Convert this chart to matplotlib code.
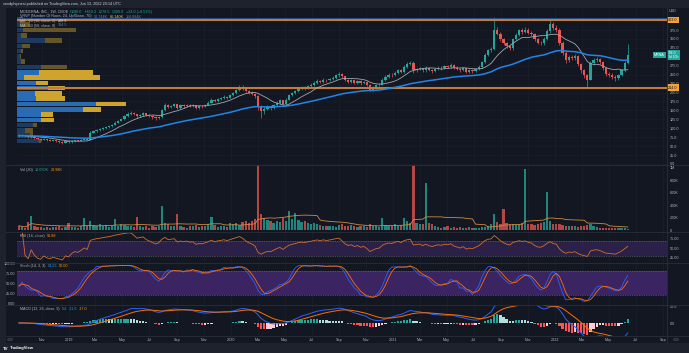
import matplotlib
matplotlib.use('Agg')
import matplotlib.pyplot as plt
import matplotlib.dates as mdates
import matplotlib.transforms as mtransforms
from matplotlib.patches import Rectangle, Circle
from matplotlib.lines import Line2D
import numpy as np
import pandas as pd

W, H = 689, 353

# weekly candles, Sep 2018 .. Jun 2022
weeks = pd.date_range('2018-09-10', periods=197, freq='W-MON')
first_open = 80
closes = [
    79, 81, 77, 75,  78, 74, 70, 68,  70, 67, 65, 66, 64,  62, 60, 63, 61,
    64, 66, 65, 67,  70, 68, 88, 92,  95, 97, 100, 103, 106,  110, 116, 121, 126,
    133, 140, 143, 139, 134,  138, 142, 137, 134,  131, 128, 132, 150,
    166, 160, 163, 167, 158,  164, 162, 166, 163,  165, 158, 162, 161,
    166, 172, 180, 176, 181,  184, 188, 186, 192,
    198, 206, 216, 212, 205,  200, 196, 190, 160,  148, 155, 160, 158,  165, 172, 178, 168,
    180, 192, 198, 204, 210,  214, 212, 218, 222,  228, 232, 230, 236, 234,
    238, 242, 248, 252,  245, 236, 230, 234,  228, 232, 226, 230, 222,
    208, 214, 220, 222,  236, 244, 250, 248,
    256, 262, 258, 272, 280,  284, 262, 266, 268,  262, 270, 264, 260,
    266, 270, 268, 274, 272,  278, 270, 266, 262,  268, 258, 262, 260,
    266, 272, 285, 305, 318,  322, 376, 365, 350,  338, 330, 324, 350,
    362, 374, 370, 376, 368,  364, 350, 340, 338,  350, 372, 392, 380, 376,
    340, 312, 290, 300,  296, 302, 280, 262,  248, 236, 282, 290,
    294, 286, 268, 252, 250,  244, 240, 250, 262,  282, 306,
]
highs = [
    83, 84, 82, 79,  81, 79, 75, 72,  72, 71, 69, 68, 67,  66, 63, 65, 65,
    66, 68, 68, 69,  73, 71, 91, 95,  98, 100, 103, 106, 109,  113, 119, 124, 129,
    137, 145, 148, 146, 141,  141, 146, 144, 139,  136, 133, 135, 154,
    172, 168, 166, 171, 169,  167, 167, 169, 168,  168, 166, 165, 165,
    169, 175, 184, 182, 184,  187, 192, 191, 196,
    202, 210, 222, 220, 214,  208, 204, 199, 192,  166, 162, 166, 165,  169, 176, 182, 180,
    184, 196, 202, 208, 214,  219, 218, 222, 226,  232, 237, 236, 240, 239,
    242, 246, 252, 257,  255, 247, 239, 238,  236, 236, 234, 233, 232,
    224, 218, 223, 226,  240, 248, 254, 254,
    260, 267, 265, 276, 285,  288, 287, 270, 272,  270, 274, 272, 267,
    269, 273, 273, 278, 277,  282, 280, 273, 269,  271, 270, 265, 265,
    269, 276, 289, 310, 322,  328, 412, 384, 369,  353, 342, 334, 354,
    367, 379, 380, 384, 380,  372, 367, 353, 345,  355, 378, 404, 398, 388,
    380, 344, 316, 306,  305, 309, 305, 283,  266, 252, 288, 298,
    300, 298, 289, 271, 257,  254, 248, 253, 266,  288, 336,
]
lows = [
    76, 77, 75, 72,  73, 71, 68, 65,  66, 65, 63, 63, 62,  59, 57, 58, 59,
    60, 62, 63, 64,  66, 66, 67, 86,  90, 93, 95, 98, 101,  104, 108, 114, 119,
    124, 131, 137, 136, 130,  131, 135, 134, 131,  127, 124, 126, 130,
    148, 156, 157, 160, 154,  155, 158, 159, 160,  160, 154, 155, 157,
    159, 164, 170, 173, 174,  178, 181, 183, 184,
    189, 196, 204, 208, 201,  196, 192, 184, 152,  128, 140, 150, 152,  155, 162, 169, 163,
    166, 178, 189, 195, 201,  206, 207, 209, 214,  219, 225, 226, 227, 230,
    231, 235, 239, 244,  241, 232, 226, 227,  224, 225, 222, 223, 217,
    203, 205, 211, 217,  220, 233, 241, 244,
    245, 253, 254, 256, 269,  277, 256, 258, 262,  257, 258, 260, 255,
    257, 263, 264, 265, 268,  269, 266, 262, 257,  259, 254, 255, 256,
    257, 263, 270, 283, 302,  314, 318, 360, 345,  333, 325, 318, 320,
    346, 358, 365, 366, 363,  358, 345, 335, 332,  334, 347, 368, 375, 370,
    334, 305, 283, 285,  290, 292, 275, 256,  242, 216, 234, 278,
    286, 280, 262, 246, 243,  238, 233, 236, 247,  258, 280,
]
volume_k = [
    70, 45, 40, 130,  230, 60, 50, 45,  40, 55, 35, 50, 45,  60, 40, 55, 120,
    45, 55, 40, 60,  190, 60, 150, 80,  70, 90, 60, 80, 50,  70, 180, 60, 90,
    80, 70, 60, 50, 210,  60, 50, 70, 40,  60, 50, 70, 380,
    120, 90, 70, 60, 260,  60, 50, 40, 70,  60, 80, 50, 60,
    70, 90, 210, 80, 50,  60, 70, 50, 120,
    90, 110, 80, 130, 150,  120, 140, 180, 1500,  260, 200, 160, 150,  120, 140, 130, 200,
    150, 310, 180, 270, 160,  130, 150, 120, 100,  110, 90, 80, 70, 60,
    70, 60, 50, 80,  90, 70, 60, 80,  60, 50, 70, 60, 50,
    90, 70, 60, 50,  190, 80, 70, 60,
    90, 70, 80, 200, 150,  110, 1700, 120, 90,  100, 760, 120, 90,
    60, 50, 40, 50, 60,  40, 50, 35, 45,  40, 35, 45, 30,
    30, 40, 45, 50, 60,  90, 260, 130, 90,  340, 120, 90, 100,
    80, 90, 110, 980, 100,  90, 80, 100, 120,  130, 610, 140, 100, 90,
    90, 80, 70, 60,  60, 70, 50, 60,  70, 80, 90, 60,
    50, 40, 35, 40, 35,  30, 35, 40, 30,  25, 10,
]

# visible range volume profile, 24 rows, bottom to top
profile_up = [22, 13, 8, 16, 24, 24, 66, 79, 19, 18, 31, 19,
              7, 22, 24, 4, 3, 4, 5, 28, 4, 6, 3, 2]
profile_down = [2, 3, 8, 4, 13, 12, 18, 30, 29, 27, 17, 12,
                76, 54, 26, 4, 1, 2, 8, 17, 6, 53, 10, 4]

level_lines = [403.0, 214.0]
price_ticks = [0, 25, 50, 75, 100, 125, 150, 175, 200, 225, 250, 275, 325, 350, 375]
month_ticks = pd.date_range('2018-11-01', '2022-09-01', freq='2MS')

BG = '#131722'
FRAME = '#1e222d'
TXT = '#b2b5be'
GRID = '#1b1f2b'
UP = '#26a69a'
DN = '#ef5350'
plt.rcParams['font.family'] = ['Liberation Sans', 'DejaVu Sans']
FS = 2.7
BAR_W = 5.0

x = mdates.date2num(weeks)
c = np.array(closes, dtype=float)
o = np.r_[first_open, c[:-1]]
hi = np.array(highs, dtype=float)
lo = np.array(lows, dtype=float)
vol = np.array(volume_k, dtype=float)
up = c >= o
ccol = np.where(up, UP, DN)

cs = pd.Series(c)
ma10 = cs.rolling(10, min_periods=1).mean()
ema50 = cs.ewm(span=50, adjust=False).mean()
vol_ma = pd.Series(vol).rolling(20, min_periods=1).mean()

delta = cs.diff().fillna(0)
gain = delta.clip(lower=0).ewm(alpha=1 / 14, adjust=False).mean()
loss = (-delta.clip(upper=0)).ewm(alpha=1 / 14, adjust=False).mean()
rsi = 100 - 100 / (1 + gain / loss)

ll = pd.Series(lo).rolling(14, min_periods=1).min()
hh = pd.Series(hi).rolling(14, min_periods=1).max()
stoch_k = (100 * (cs - ll) / (hh - ll)).rolling(3, min_periods=1).mean()
stoch_d = stoch_k.rolling(3, min_periods=1).mean()

macd = cs.ewm(span=12, adjust=False).mean() - cs.ewm(span=26, adjust=False).mean()
signal = macd.ewm(span=9, adjust=False).mean()
hist = macd - signal
prev = hist.shift(1).fillna(0)
hcol = np.where(hist >= 0, np.where(hist > prev, '#26a69a', '#b2dfdb'),
                np.where(hist < prev, '#ff5252', '#ffcdd2'))

jan19 = mdates.date2num(pd.Timestamp('2019-01-01'))
xmin, xmax = jan19 - 117.2, jan19 + 1347.4

fig = plt.figure(figsize=(W / 100, H / 100), dpi=100, facecolor=FRAME)
fig.patches.append(Rectangle((6 / W, 1 - 343 / H), 683 / W, 335 / H,
                             transform=fig.transFigure, facecolor=BG,
                             edgecolor='none', zorder=-10))


def pane(y0, y1):
    ax = fig.add_axes([17 / W, 1 - y1 / H, 650 / W, (y1 - y0) / H])
    ax.set_facecolor('none')
    for s in ax.spines.values():
        s.set_visible(False)
    ax.set_axisbelow(True)
    ax.set_xlim(xmin, xmax)
    ax.set_xticks(mdates.date2num(month_ticks))
    ax.grid(axis='x', color=GRID, lw=0.5)
    ax.tick_params(length=0, labelsize=FS, colors=TXT, pad=2.2)
    ax.tick_params(axis='x', labelbottom=False)
    ax.yaxis.tick_right()
    return ax


# ---- price pane
ax_p = pane(8, 165)
ax_p.set_ylim(-2.8, 436.6)
ax_p.set_yticks(price_ticks)
ax_p.set_yticklabels(['%.1f' % v for v in price_ticks])
ax_p.grid(axis='y', color=GRID, lw=0.4)

trans = mtransforms.blended_transform_factory(ax_p.transAxes, ax_p.transData)
edges = np.linspace(lo.min(), hi.max(), 25)
rowh = edges[1] - edges[0]
scale = (109 / 650) / max(u + d for u, d in zip(profile_up, profile_down))
for k, (u, d) in enumerate(zip(profile_up, profile_down)):
    in_va = 4 <= k <= 13
    cu = '#2a6cb3' if in_va else '#1e3a5e'
    cd = '#cfa42c' if in_va else '#65562a'
    ax_p.add_patch(Rectangle((0, edges[k] + rowh * 0.07), u * scale, rowh * 0.86,
                             transform=trans, facecolor=cu, edgecolor='none', zorder=1))
    ax_p.add_patch(Rectangle((u * scale, edges[k] + rowh * 0.07), d * scale, rowh * 0.86,
                             transform=trans, facecolor=cd, edgecolor='none', zorder=1))

ax_p.axhline(408.5, color='#1f4a8e', lw=0.7, zorder=4)
for lv in level_lines:
    ax_p.axhline(lv, color='#c27c38', lw=1.5, zorder=4)
    ax_p.text(1.002, lv, '%.1f' % lv, transform=trans, fontsize=FS, color=BG,
              va='center', ha='left', clip_on=False, zorder=6,
              bbox=dict(boxstyle='square,pad=0.3', fc='#f2a33a', ec='none'))

ax_p.vlines(x, lo, hi, colors=ccol, lw=0.5, zorder=3)
ax_p.bar(x, np.maximum(np.abs(c - o), 0.8), bottom=np.minimum(o, c), width=BAR_W,
         color=ccol, lw=0, zorder=3)
ax_p.plot(x, ma10, color='#a3a6af', lw=0.6, zorder=4)
ax_p.plot(x, ema50, color='#2185e8', lw=1.1, zorder=4)

ax_p.text(1.002, c[-1], '%.1f\n3d 10h' % c[-1], transform=trans, fontsize=2.4,
          color='white', va='center', ha='left', clip_on=False, zorder=6,
          linespacing=1.0, bbox=dict(boxstyle='square,pad=0.3', fc=UP, ec='none'))
ax_p.text(0.996, c[-1], 'MRNA', transform=trans, fontsize=FS, color='white',
          va='center', ha='right', clip_on=False, zorder=6,
          bbox=dict(boxstyle='square,pad=0.3', fc=UP, ec='none'))
fig.text(669 / W, 1 - 11 / H, 'USD', fontsize=FS, color=TXT, va='center')

# ---- volume pane
ax_v = pane(165, 232)
ax_v.set_ylim(-32, 1048)
ax_v.set_yticks([0, 200, 400, 600, 800, 1000])
ax_v.set_yticklabels(['0', '200K', '400K', '600K', '800K', '1M'])
ax_v.bar(x, vol, width=BAR_W, color=np.where(up, '#22857d', '#b24745'), lw=0)
ax_v.plot(x, vol_ma, color='#cf8a40', lw=0.6)

# ---- RSI pane
ax_r = pane(232, 263)
ax_r.set_ylim(11.8, 93.4)
ax_r.set_yticks([25, 50, 75])
ax_r.set_yticklabels(['25.00', '50.00', '75.00'])
ax_r.axhspan(30, 70, color='#2b2048', lw=0)
for lv in (70, 30):
    ax_r.axhline(lv, color='#787b86', lw=0.5, ls=(0, (1, 1.5)))
ax_r.plot(x, rsi, color='#d0702c', lw=0.6)

# ---- Stoch pane
ax_s = pane(263, 305)
ax_s.set_ylim(-5, 101)
ax_s.yaxis.tick_left()
ax_s.set_yticks([0, 25, 50, 75, 100])
ax_s.set_yticklabels(['0.00', '25.00', '50.00', '75.00', '100.00'])
ax_s.tick_params(axis='y', pad=1.5)
ax_s.axhspan(20, 80, color='#3a2462', lw=0)
for lv in (80, 20):
    ax_s.axhline(lv, color='#787b86', lw=0.5, ls=(0, (1, 1.5)))
ax_s.plot(x, stoch_k, color='#2962ff', lw=0.6)
ax_s.plot(x, stoch_d, color='#ff6d00', lw=0.6)

# ---- MACD pane
ax_m = pane(305, 336)
ax_m.set_ylim(-15.3, 21.2)
ax_m.set_yticks([0, 20])
ax_m.set_yticklabels(['0.0', '20.0'])
ax_m.bar(x, hist, width=BAR_W, color=hcol, lw=0)
ax_m.plot(x, macd, color='#2962ff', lw=0.7)
ax_m.plot(x, signal, color='#ff6d00', lw=0.7)
ax_m.set_xticklabels([str(d.year) if d.month == 1 else d.strftime('%b') for d in month_ticks])
ax_m.tick_params(axis='x', labelbottom=True, pad=1.3)

# pane separators
for yy in (165, 232, 263, 305, 336):
    fig.add_artist(Line2D([6 / W, 1], [1 - yy / H] * 2, color='#2a2e39', lw=0.6))
fig.add_artist(Line2D([667 / W] * 2, [1 - 343 / H, 1 - 8 / H], color='#2a2e39', lw=0.6))

# legends
renderer = fig.canvas.get_renderer()


def legend(x0, y0, pieces):
    for s, col in pieces:
        t = fig.text(x0 / W, 1 - y0 / H, s, color=col, fontsize=FS, va='center', ha='left')
        x0 += t.get_window_extent(renderer).width + 2


legend(20, 12, [('MODERNA, INC., 1W, CBOE', TXT), ('O280.0', UP), ('H310.2', UP),
                ('L278.5', UP), ('C306.0', UP), ('+24.0 (+8.51%)', UP)])
legend(20, 16.5, [('VRVP (Number Of Rows, 24, Up/Down, 70)', TXT), ('52.744K', '#2196f3'),
                  ('66.140K', '#fbc02d'), ('118.884K', '#787b86')])
legend(20, 21, [('MA \u00b7 10 (10, close, 0)', TXT), ('268.8', '#d1d4dc')])
legend(20, 25.5, [('MA \u00b7 50 (50, close, 0)', TXT), ('314.5', '#2196f3')])
legend(20, 170, [('Vol (20)', TXT), ('10.050K', UP), ('28.98K', '#ff9800')])
legend(20, 236, [('RSI (14, close)', TXT), ('56.88', '#ff9800')])
legend(20, 266, [('Stoch (14, 3, 3)', TXT), ('64.23', '#2196f3'), ('50.00', '#ff9800')])
legend(20, 309, [('MACD (12, 26, close, 9)', TXT), ('5.4', UP), ('-11.6', '#2196f3'),
                 ('-17.0', '#ff9800')])

fig.text(3 / W, 1 - 4 / H, 'sendphipnest published on TradingView.com, Jun 13, 2022 20:14 UTC',
         fontsize=FS, color='#d1d4dc', va='center')
fig.text(3 / W, 1 - 348.5 / H, 'TV', fontsize=3.2, color='white', weight='bold', va='center')
fig.text(10 / W, 1 - 348.5 / H, 'TradingView', fontsize=3.0, color='white', weight='bold', va='center')
for cx in (10, 676):
    fig.add_artist(Circle((cx / W, 1 - 339.5 / H), 2.6 / W, transform=fig.transFigure,
                          facecolor='#2a2e39', edgecolor='#434651', lw=0.4))

fig.savefig('out.png', dpi=100, facecolor=FRAME)
